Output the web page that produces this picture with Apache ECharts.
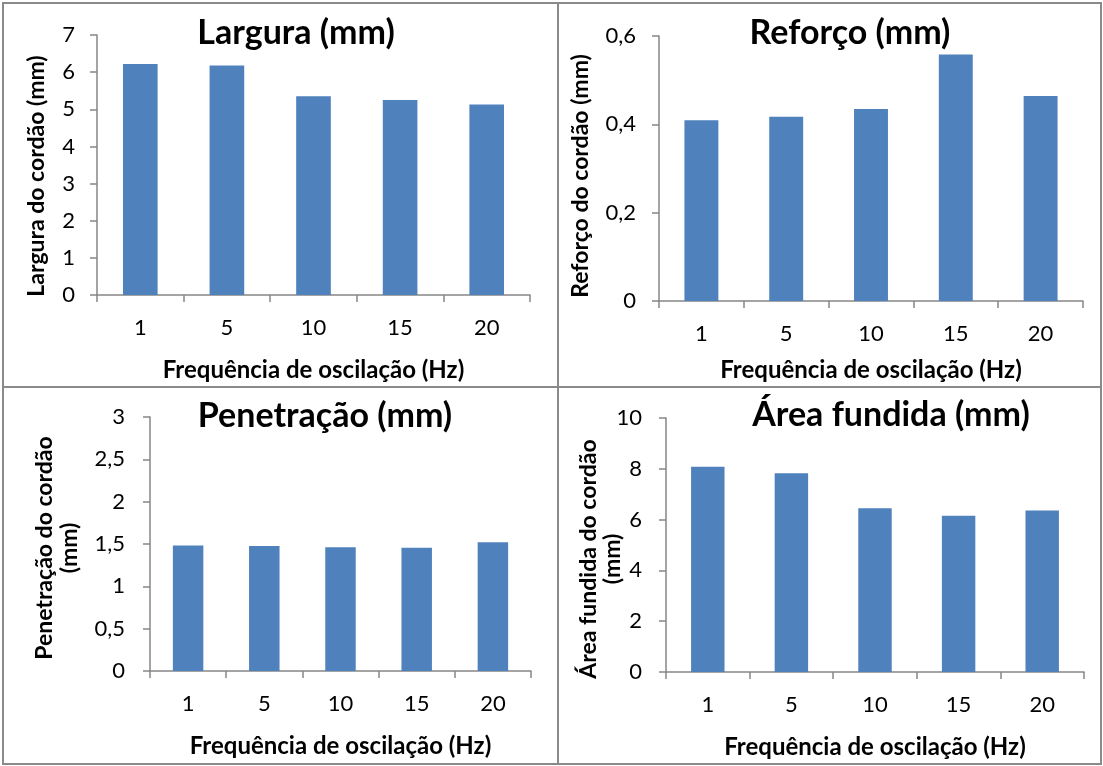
<!DOCTYPE html>
<html>
<head>
<meta charset="utf-8">
<script src="https://cdn.jsdelivr.net/npm/echarts@6/dist/echarts.min.js"></script>
<style>
  html, body { margin: 0; padding: 0; background: #fff; }
  #chart { width: 1103px; height: 766px; }
</style>
</head>
<body>
<div id="chart"></div>
<script>
// Oscillation frequencies (Hz) shared by all four panels
const frequencies = ['1', '5', '10', '15', '20'];

// Bead geometry measurements (mm)
const largura = [6.22, 6.18, 5.35, 5.25, 5.13];
const reforco = [0.409, 0.417, 0.435, 0.558, 0.464];
const penetracao = [1.483, 1.476, 1.461, 1.457, 1.52];
const areaFundida = [8.08, 7.82, 6.45, 6.15, 6.36];

// Panel texts
const panelTitles = ['Largura (mm)', 'Reforço (mm)', 'Penetração (mm)', 'Área fundida (mm)'];
const yNames = [
  ['Largura do cordão (mm)'],
  ['Reforço do cordão (mm)'],
  ['Penetração do cordão', '(mm)'],
  ['Área fundida do cordão', '(mm)']
];
const xName = 'Frequência de oscilação (Hz)';

const FONT = 'Lato, "Open Sans", sans-serif';
const AXIS_GREY = '#868686';
const BAR_BLUE = '#4F81BD';

const panels = [
  { data: largura,     grid: { left: 97,  top: 35,  width: 433, height: 260 }, max: 7,   interval: 1,   margin: 22, nameGap: 63,
    title: { x: 296, y: 16 },  yName: { x: [37], y: 176 } },
  { data: reforco,     grid: { left: 659, top: 36,  width: 424, height: 265 }, max: 0.6, interval: 0.2, margin: 23, nameGap: 57,
    title: { x: 850, y: 16 },  yName: { x: [581], y: 176 } },
  { data: penetracao,  grid: { left: 150, top: 417, width: 381, height: 254 }, max: 3,   interval: 0.5, margin: 25, nameGap: 63,
    title: { x: 325, y: 399 }, yName: { x: [45, 70], y: 548 } },
  { data: areaFundida, grid: { left: 666, top: 418, width: 418, height: 254 }, max: 10,  interval: 2,   margin: 24, nameGap: 63,
    title: { x: 891, y: 398 }, yName: { x: [589, 613], y: 559 } }
];

const decimalComma = v => String(+v.toFixed(2)).replace('.', ',');

const option = {
  backgroundColor: '#fff',
  animation: false,
  title: panels.map((p, i) => ({
    text: panelTitles[i],
    left: p.title.x,
    top: p.title.y,
    textAlign: 'center',
    padding: 0,
    textStyle: { fontFamily: FONT, fontSize: 34, fontWeight: 'bold', color: '#000' }
  })),
  grid: panels.map(p => Object.assign({ containLabel: false }, p.grid)),
  xAxis: panels.map((p, i) => ({
    type: 'category',
    gridIndex: i,
    data: frequencies,
    name: xName,
    nameLocation: 'middle',
    nameGap: p.nameGap,
    nameTextStyle: { fontFamily: FONT, fontSize: 24, fontWeight: 'bold', color: '#000' },
    axisLine: { lineStyle: { color: AXIS_GREY, width: 1.5 } },
    axisTick: { show: true, length: 7, lineStyle: { color: AXIS_GREY, width: 1.5 } },
    axisLabel: { fontFamily: FONT, fontSize: 22, color: '#000', margin: 22 },
    splitLine: { show: false }
  })),
  yAxis: panels.map((p, i) => ({
    type: 'value',
    gridIndex: i,
    min: 0,
    max: p.max,
    interval: p.interval,
    axisLine: { show: true, lineStyle: { color: AXIS_GREY, width: 1.5 } },
    axisTick: { show: true, length: 7, lineStyle: { color: AXIS_GREY, width: 1.5 } },
    axisLabel: { fontFamily: FONT, fontSize: 22, color: '#000', margin: p.margin, formatter: decimalComma },
    splitLine: { show: false }
  })),
  series: panels.map((p, i) => ({
    type: 'bar',
    xAxisIndex: i,
    yAxisIndex: i,
    data: p.data,
    barWidth: '40%',
    itemStyle: { color: BAR_BLUE }
  })),
  graphic: [
    // panel frames
    ...[[3, 3, 555, 384], [558, 3, 543, 384], [3, 387, 555, 377], [558, 387, 543, 377]].map(r => ({
      type: 'rect',
      shape: { x: r[0], y: r[1], width: r[2], height: r[3] },
      style: { fill: 'none', stroke: '#8a8a8a', lineWidth: 2 },
      silent: true
    })),
    // vertical y-axis titles
    ...panels.flatMap((p, i) => yNames[i].map((line, k) => ({
      type: 'text',
      x: p.yName.x[k],
      y: p.yName.y,
      rotation: Math.PI / 2,
      style: {
        text: line,
        fontFamily: FONT,
        fontSize: 23,
        fontWeight: 'bold',
        fill: '#000',
        align: 'center',
        verticalAlign: 'middle'
      },
      silent: true
    })))
  ]
};

echarts.init(document.getElementById('chart'), null, { renderer: 'canvas' }).setOption(option);
</script>
</body>
</html>
